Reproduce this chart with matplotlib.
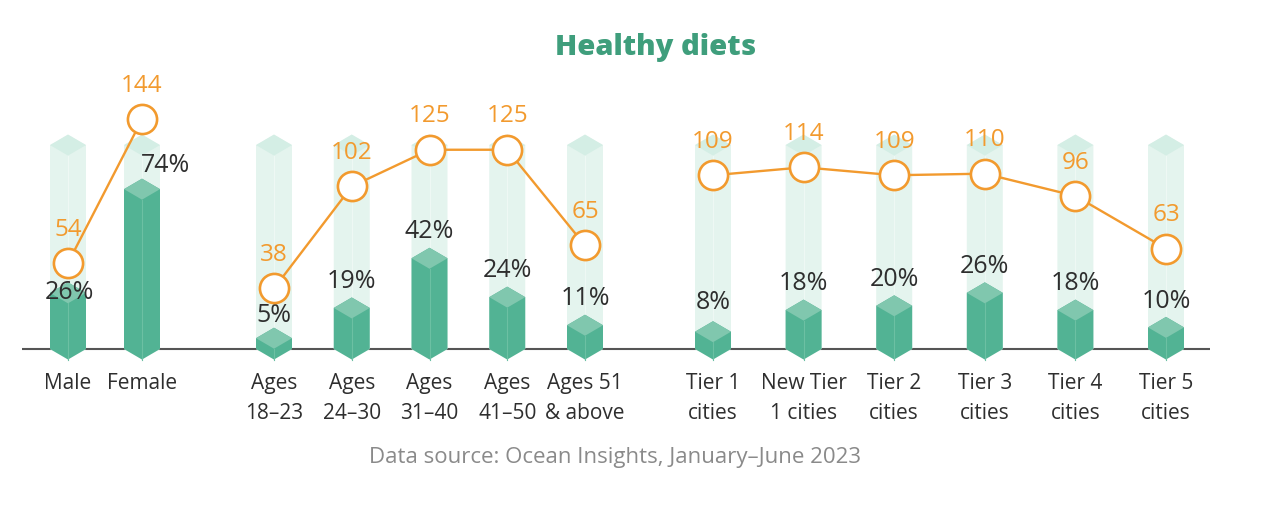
import matplotlib.pyplot as plt
from matplotlib.patches import Polygon

plt.rcParams["font.family"] = ["Open Sans", "DejaVu Sans"]

# ---------------------------------------------------------
#  Data
# ---------------------------------------------------------
categories = ["Male", "Female",
              "Ages\n18–23", "Ages\n24–30", "Ages\n31–40", "Ages\n41–50", "Ages 51\n& above",
              "Tier 1\ncities", "New Tier\n1 cities", "Tier 2\ncities", "Tier 3\ncities",
              "Tier 4\ncities", "Tier 5\ncities"]
group_sizes = [2, 5, 6]
share_pct = [26, 74, 5, 19, 42, 24, 11, 8, 18, 20, 26, 18, 10]
index_vals = [54, 144, 38, 102, 125, 125, 65, 109, 114, 109, 110, 96, 63]

# ---------------------------------------------------------
#  Style / layout (pixel based, figure is 1280x515)
# ---------------------------------------------------------
W, H = 1280, 515
BASE = 349                 # baseline, px from top
PX_PCT = 2.16              # px per percentage point
PX_IDX = 1.594             # px per index point
HALF_W = 18                # half bar width, px
DEPTH = 10.5               # isometric cap depth, px
BG_PCT = 94.4              # height of the pale column

BAR = "#52B394"
BAR_TOP = "#80C7AE"
BAR_MID = "#6CC0A3"
BG = "#E4F4EE"
BG_TOP = "#D4EEE5"
ORANGE = "#F29A2E"
DARK = "#2E2E2E"
GREEN_T = "#3F9E7C"

group_start = [68, 274, 713]
group_step = [74, 77.75, 90.6]
xs = []
for g, n in enumerate(group_sizes):
    xs += [group_start[g] + i * group_step[g] for i in range(n)]

# label nudges (points) where the line gets in the way
pct_nudge = {0: (1, 0), 1: (17, 17), 2: (0, 16), 7: (0, 21)}

fig = plt.figure(figsize=(W / 100, H / 100), dpi=100)
ax = fig.add_axes([0, 0, 1, 1])
ax.set_xlim(0, W)
ax.set_ylim(-(H - BASE) / PX_PCT, BASE / PX_PCT)
ax.axis("off")
ax2 = ax.twinx()
ax2.set_ylim(-(H - BASE) / PX_IDX, BASE / PX_IDX)
ax2.axis("off")

dy = DEPTH / PX_PCT

# baseline
ax.plot([22, 1210], [0, 0], color="#555555", lw=1.5, zorder=1,
        solid_capstyle="butt")


def prism(x, h, body, top, mid, z):
    ax.add_patch(Polygon([(x - HALF_W, 0), (x - HALF_W, h), (x, h + dy),
                          (x + HALF_W, h), (x + HALF_W, 0), (x, -dy)],
                         closed=True, facecolor=body, edgecolor="none", zorder=z))
    ax.add_patch(Polygon([(x - HALF_W, h), (x, h + dy), (x + HALF_W, h), (x, h - dy)],
                         closed=True, facecolor=top, edgecolor="none", zorder=z + 0.1))
    ax.plot([x, x], [-dy, h - dy], color=mid, lw=0.8, zorder=z + 0.05)


for x, p in zip(xs, share_pct):
    prism(x, BG_PCT, BG, BG_TOP, "#EEF8F4", 2)
    prism(x, p, BAR, BAR_TOP, BAR_MID, 3)

# percent labels
for i, (x, p) in enumerate(zip(xs, share_pct)):
    off = pct_nudge.get(i, (0, 19))
    ax.annotate(f"{p}%", (x, p), xytext=off, textcoords="offset points",
                ha="center", va="center", fontsize=18, color=DARK, zorder=6)

# index line, one segment per group
start = 0
for n in group_sizes:
    gx = xs[start:start + n]
    gy = index_vals[start:start + n]
    ax2.plot(gx, gy, color=ORANGE, lw=1.7, marker="o", markersize=21,
             markerfacecolor="white", markeredgecolor=ORANGE, markeredgewidth=1.9,
             zorder=5)
    start += n

for x, v in zip(xs, index_vals):
    ax2.annotate(f"{v}", (x, v), xytext=(0, 24), textcoords="offset points",
                 ha="center", va="center", fontsize=17.5, color=ORANGE, zorder=6)

# category labels
for x, c in zip(xs, categories):
    ax.annotate(c, (x, 0), xytext=(0, -17), textcoords="offset points",
                ha="center", va="top", fontsize=15, color=DARK, linespacing=1.6)

# title and source
fig.text(656 / W, 1 - 47 / H, "Healthy diets", ha="center", va="center",
         fontsize=21, fontweight="heavy", color=GREEN_T)
fig.text(615 / W, 1 - 457 / H, "Data source: Ocean Insights, January–June 2023",
         ha="center", va="center", fontsize=16, color="#8A8A8A")

fig.savefig("out.png", dpi=100, facecolor="white")
